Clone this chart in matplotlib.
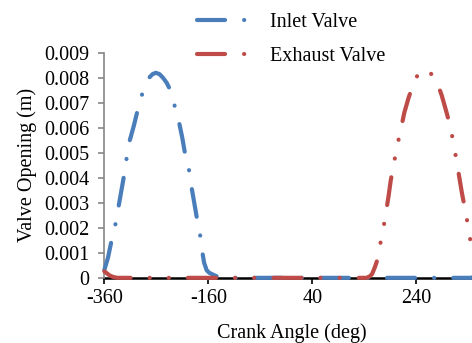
import matplotlib
matplotlib.use("Agg")
import matplotlib.pyplot as plt

# valve lift vs crank angle
inlet_deg = [-360, -353, -346, -338, -333, -322, -317, -311, -303, -296, -288,
             -280, -274, -267, -261, -254, -247, -240, -234, -225, -216, -210,
             -205, -197, -192, -187, -182, -176, -172, -168, -163, -158, -153,
             -146, -140, -135, 345, 350, 355, 360]
inlet_lift = [0.00031, 0.0008, 0.0015, 0.0022, 0.0028, 0.0041, 0.0048, 0.0055,
              0.0061, 0.0067, 0.0073, 0.0077, 0.0080, 0.00815, 0.0082, 0.00815,
              0.0080, 0.0078, 0.00755, 0.0069, 0.0062, 0.0056, 0.0050, 0.0043,
              0.0036, 0.0030, 0.0024, 0.00175, 0.0011, 0.0006, 0.0003, 0.0002,
              0.00015, 0.00008, 0.00004, 0.0, 0.0, 0.00003, 0.0001, 0.00031]

exhaust_deg = [-360, -355, -350, -345, -340, -335, 144, 150, 155, 160, 164, 170,
               177, 182, 187, 191, 197, 203, 210, 217, 225, 235, 245, 255, 263,
               271, 279, 289, 298, 306, 312, 318, 323, 328, 334, 340, 345, 350,
               355, 360]
exhaust_lift = [0.00026, 0.00018, 0.0001, 0.00005, 0.00002, 0.0, 0.0, 0.00005,
                0.00015, 0.0004, 0.00064, 0.00127, 0.0020, 0.00264, 0.0033,
                0.0039, 0.00457, 0.00524, 0.0059, 0.0066, 0.00718, 0.0078,
                0.0082, 0.00834, 0.0083, 0.0081, 0.00788, 0.0073, 0.00664,
                0.00602, 0.00534, 0.00464, 0.0040, 0.00338, 0.00274, 0.00204,
                0.00138, 0.0009, 0.0005, 0.00026]

x_ticks = [-360, -160, 40, 240]
y_ticks = [0, 0.001, 0.002, 0.003, 0.004, 0.005, 0.006, 0.007, 0.008, 0.009]
y_labels = ["0", "0.001", "0.002", "0.003", "0.004", "0.005", "0.006",
            "0.007", "0.008", "0.009"]

plt.rcParams["font.family"] = ["Liberation Serif", "DejaVu Serif"]
plt.rcParams["font.size"] = 14.5
plt.rcParams["lines.scale_dashes"] = False
plt.rcParams["axes.unicode_minus"] = False

fig = plt.figure(figsize=(4.72, 3.43), dpi=100)
ax = fig.add_axes([0.221, 0.190, 0.793, 0.656])

dash_dot = (0, (20.2, 13.7, 0.1, 13.7))
dash_dot_dot = (0, (20.2, 13.7, 0.1, 13.7, 0.1, 13.7))

ax.plot(inlet_deg, inlet_lift, color="#4A7EBB", lw=3, ls=dash_dot,
        dash_capstyle="round", solid_capstyle="round", label="Inlet Valve",
        clip_on=False, zorder=3)
ax.plot(exhaust_deg, exhaust_lift, color="#BE4B48", lw=3, ls=dash_dot_dot,
        dash_capstyle="round", solid_capstyle="round", label="Exhaust Valve",
        clip_on=False, zorder=4)

ax.set_xlim(-360, 360)
ax.set_ylim(0, 0.009)
ax.set_xticks(x_ticks)
ax.set_yticks(y_ticks)
ax.set_yticklabels(y_labels)

for side in ("top", "right"):
    ax.spines[side].set_visible(False)
ax.spines["left"].set_color("#868686")
ax.spines["left"].set_linewidth(1.2)
ax.spines["bottom"].set_color("black")
ax.spines["bottom"].set_linewidth(1.8)
ax.spines["bottom"].set_zorder(2)
ax.tick_params(axis="y", direction="out", length=4, width=1.2,
               color="#868686", pad=7)
ax.tick_params(axis="x", direction="out", length=4, width=1.2,
               color="black", pad=4)

ax.set_xlabel("Crank Angle (deg)", labelpad=11)
ax.set_ylabel("Valve Opening (m)", labelpad=5)

fig.legend(loc="upper center", bbox_to_anchor=(291 / 472, 1.0),
           frameon=False, handlelength=2.7, handletextpad=0.9,
           labelspacing=0.75, borderaxespad=0.25)

fig.savefig("out.png", dpi=100)
